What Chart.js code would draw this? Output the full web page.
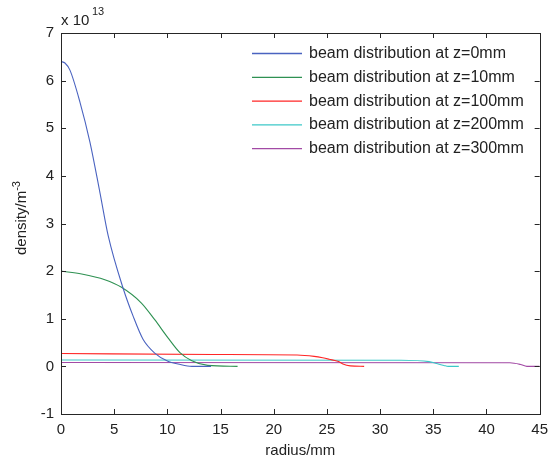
<!DOCTYPE html>
<html>
<head>
<meta charset="utf-8">
<script src="https://cdn.jsdelivr.net/npm/chart.js@4.4.1/dist/chart.umd.min.js"></script>
<style>
  body { margin: 0; background: #fff; }
  canvas { display: block; }
</style>
</head>
<body>
<canvas id="grafico" width="555" height="462"></canvas>
<script>
// density values are in units of 1e13 m^-3
const labels = [
  "beam distribution at z=0mm",
  "beam distribution at z=10mm",
  "beam distribution at z=100mm",
  "beam distribution at z=200mm",
  "beam distribution at z=300mm"
];
const colores = ["#4a63c0", "#2e9152", "#ff2626", "#3cc8c8", "#a24aa5"];

const r0 = [0, 0.37, 0.84, 1.78, 2.72, 3.66, 4.44, 5.84, 6.77, 7.71, 8.81, 10.1, 11.0, 12.3, 14.1];
const d0 = [6.40, 6.37, 6.22, 5.55, 4.71, 3.65, 2.74, 1.64, 1.06, 0.57, 0.28, 0.10, 0.05, 0.0, 0.0];

const r10 = [0, 1.94, 4.12, 5.69, 7.56, 8.81, 10.06, 11.18, 12.3, 13.8, 16.6];
const d10 = [2.0, 1.94, 1.82, 1.66, 1.33, 0.98, 0.60, 0.29, 0.12, 0.02, 0.0];

const r100 = [0, 14.3, 22.2, 23.8, 24.6, 25.2, 26.1, 26.5, 27.2, 28.5];
const d100 = [0.27, 0.25, 0.24, 0.21, 0.18, 0.15, 0.10, 0.05, 0.01, 0.0];

const r200 = [0, 31.9, 34.6, 35.3, 36.0, 36.4, 37.4];
const d200 = [0.135, 0.13, 0.10, 0.06, 0.02, 0.0, 0.0];

const r300 = [0, 42.2, 43.2, 43.8, 45];
const d300 = [0.08, 0.075, 0.04, 0.0, 0.0];

const xTicks = [0, 5, 10, 15, 20, 25, 30, 35, 40, 45];
const yTicks = [-1, 0, 1, 2, 3, 4, 5, 6, 7];

const series = [[r0, d0], [r10, d10], [r100, d100], [r200, d200], [r300, d300]];

function puntos(rs, ds) {
  return rs.map((r, i) => ({ x: r, y: ds[i] }));
}

const fuente = "Arial, 'Liberation Sans', sans-serif";

const marco = {
  id: "marco",
  afterDraw(chart) {
    const ctx = chart.ctx;
    const a = chart.chartArea;
    const sx = chart.scales.x;
    const sy = chart.scales.y;
    ctx.save();
    ctx.strokeStyle = "#262626";
    ctx.lineWidth = 1;
    ctx.strokeRect(Math.round(a.left) + 0.5, Math.round(a.top) + 0.5,
      Math.round(a.right - a.left), Math.round(a.bottom - a.top));
    ctx.beginPath();
    xTicks.forEach(v => {
      const px = Math.round(sx.getPixelForValue(v)) + 0.5;
      ctx.moveTo(px, a.bottom); ctx.lineTo(px, a.bottom - 5);
      ctx.moveTo(px, a.top); ctx.lineTo(px, a.top + 5);
    });
    yTicks.forEach(v => {
      const py = Math.round(sy.getPixelForValue(v)) + 0.5;
      ctx.moveTo(a.left, py); ctx.lineTo(a.left + 5, py);
      ctx.moveTo(a.right, py); ctx.lineTo(a.right - 5, py);
    });
    ctx.stroke();

    // titulos
    ctx.fillStyle = "#222";
    ctx.font = "15px " + fuente;
    ctx.textAlign = "center";
    ctx.textBaseline = "middle";
    ctx.fillText("radius/mm", (a.left + a.right) / 2, 451);

    ctx.save();
    ctx.translate(22, 218);
    ctx.rotate(-Math.PI / 2);
    ctx.textAlign = "left";
    ctx.font = "15px " + fuente;
    const w1 = ctx.measureText("density/m").width;
    ctx.font = "11px " + fuente;
    const w2 = ctx.measureText("-3").width;
    const x0 = -(w1 + w2) / 2;
    ctx.font = "15px " + fuente;
    ctx.fillText("density/m", x0, 0);
    ctx.font = "11px " + fuente;
    ctx.fillText("-3", x0 + w1, -5);
    ctx.restore();

    ctx.textAlign = "left";
    ctx.font = "15px " + fuente;
    ctx.fillText("x 10", 61, 21);
    ctx.font = "11px " + fuente;
    ctx.fillText("13", 92, 12);

    // leyenda
    ctx.font = "16px " + fuente;
    labels.forEach((txt, i) => {
      const y = 53.5 + i * 23.8;
      ctx.strokeStyle = colores[i];
      ctx.lineWidth = 1.3;
      ctx.beginPath();
      ctx.moveTo(252, y); ctx.lineTo(302, y);
      ctx.stroke();
      ctx.fillStyle = "#222";
      ctx.fillText(txt, 309, y);
    });
    ctx.restore();
  }
};

new Chart(document.getElementById("grafico"), {
  type: "scatter",
  data: {
    datasets: series.map((s, i) => ({
      label: labels[i],
      data: puntos(s[0], s[1]),
      showLine: true,
      borderColor: colores[i],
      backgroundColor: colores[i],
      borderWidth: 1.1,
      pointRadius: 0,
      cubicInterpolationMode: "monotone"
    }))
  },
  options: {
    responsive: false,
    animation: false,
    layout: { padding: { top: 33, right: 14, left: 0, bottom: 0 } },
    plugins: {
      legend: { display: false },
      tooltip: { enabled: false }
    },
    scales: {
      x: {
        type: "linear",
        min: 0,
        max: 45,
        afterFit: s => { s.height = 48; },
        afterBuildTicks: s => { s.ticks = xTicks.map(v => ({ value: v })); },
        grid: { display: false, drawTicks: false },
        border: { display: false },
        ticks: { padding: 7, color: "#222", font: { family: fuente, size: 15 } }
      },
      y: {
        type: "linear",
        min: -1,
        max: 7,
        afterFit: s => { s.width = 61; },
        afterBuildTicks: s => { s.ticks = yTicks.map(v => ({ value: v })); },
        grid: { display: false, drawTicks: false },
        border: { display: false },
        ticks: { padding: 7, color: "#222", font: { family: fuente, size: 15 } }
      }
    }
  },
  plugins: [marco]
});
</script>
</body>
</html>
